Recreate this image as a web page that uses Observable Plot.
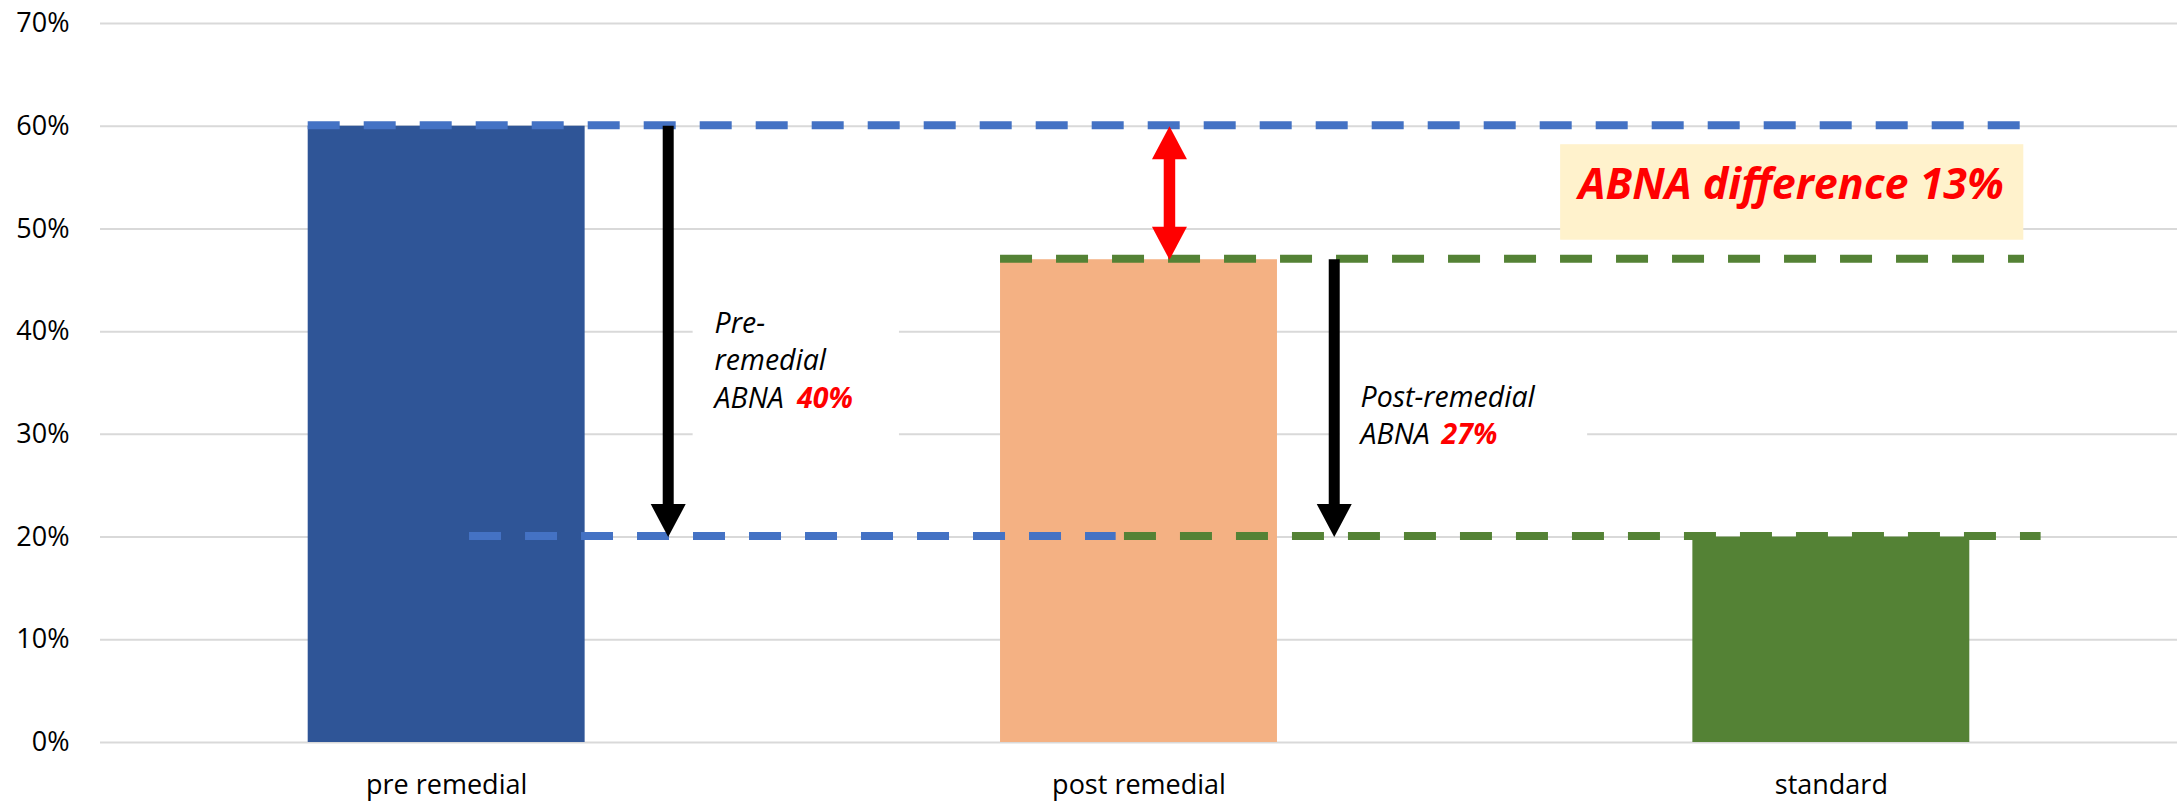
<!DOCTYPE html>
<html>
<head>
<meta charset="utf-8">
<script src="https://cdn.jsdelivr.net/npm/d3@7"></script>
<script src="https://cdn.jsdelivr.net/npm/@observablehq/plot@0.6"></script>
<style>
  body { margin: 0; background: #fff; }
</style>
</head>
<body>
<div id="chart"></div>
<script>
// ABNA share for each stage
const categories = ["pre remedial", "post remedial", "standard"];
const abnaShare = [60, 47, 20];
const barColors = ["#2F5597", "#F4B183", "#548235"];
const yTicks = [0, 10, 20, 30, 40, 50, 60, 70];

const [preLevel, postLevel, standardLevel] = abnaShare;
const preGap = preLevel - standardLevel;     // gap before remediation
const postGap = postLevel - standardLevel;   // gap after remediation
const difference = preLevel - postLevel;     // improvement

const bars = categories.map((category, i) => ({
  category, i, value: abnaShare[i], color: barColors[i]
}));

// Filled arrow heads, tip at the anchor point
const headDown = {draw(ctx) { ctx.moveTo(0, 0); ctx.lineTo(-17.5, -33); ctx.lineTo(17.5, -33); ctx.closePath(); }};
const headUp = {draw(ctx) { ctx.moveTo(0, 0); ctx.lineTo(-17.5, 33); ctx.lineTo(17.5, 33); ctx.closePath(); }};

const BLUE = "#4472C4", GREEN = "#548235", RED = "#FF0000";
const dashed = {strokeWidth: 8, strokeDasharray: "32,24", dy: -1};
const note = {textAnchor: "start", lineAnchor: "top", lineHeight: 1.316, fontSize: 28.5, fontStyle: "italic"};
const head = {r: 10, stroke: "none"};

const chart = Plot.plot({
  width: 2183,
  height: 801,
  marginLeft: 100,
  marginRight: 6,
  marginTop: 23,
  marginBottom: 59,
  x: {domain: [-0.5, 2.5]},
  y: {domain: [0, 70]},
  color: {type: "identity"},
  style: {fontFamily: "'Open Sans', sans-serif", fontSize: "27px", color: "#000", background: "#fff"},
  marks: [
    Plot.gridY(yTicks, {stroke: "#D9D9D9", strokeOpacity: 1, strokeWidth: 2}),
    Plot.axisY(yTicks, {tickSize: 0, tickPadding: 31, tickFormat: d => d + "%", label: null}),
    Plot.axisX([0, 1, 2], {tickSize: 0, tickPadding: 32, tickFormat: i => categories[i], label: null}),

    // bars
    Plot.rectY(bars, {x1: d => d.i - 0.2, x2: d => d.i + 0.2, y1: 0, y2: "value", fill: "color"}),

    // white panels behind the notes, and the highlighted difference box
    Plot.rect([0], {x1: 0.356, x2: 0.654, y1: 27, y2: 46, fill: "#fff"}),
    Plot.rect([0], {x1: 1.290, x2: 1.648, y1: 27.7, y2: 37, fill: "#fff"}),
    Plot.rect([0], {x1: 1.609, x2: 2.278, y1: 48.9, y2: 58.2, fill: "#FFF2CC"}),

    // reference levels
    Plot.ruleY([preLevel], {x1: -0.2, x2: 2.275, stroke: BLUE, ...dashed}),
    Plot.ruleY([standardLevel], {x1: 0.033, x2: 0.967, stroke: BLUE, ...dashed}),
    Plot.ruleY([postLevel], {x1: 0.8, x2: 2.279, stroke: GREEN, ...dashed}),
    Plot.ruleY([standardLevel], {x1: 0.979, x2: 2.303, stroke: GREEN, ...dashed}),

    // pre-remedial gap arrow
    Plot.ruleX([0.320], {y1: preLevel, y2: standardLevel, stroke: "#000", strokeWidth: 11, insetBottom: 30}),
    Plot.dot([standardLevel], {x: 0.320, y: d => d, symbol: headDown, fill: "#000", ...head}),

    // post-remedial gap arrow
    Plot.ruleX([1.282], {y1: postLevel, y2: standardLevel, stroke: "#000", strokeWidth: 11, insetBottom: 30}),
    Plot.dot([standardLevel], {x: 1.282, y: d => d, symbol: headDown, fill: "#000", ...head}),

    // difference double arrow
    Plot.ruleX([1.044], {y1: preLevel, y2: postLevel, stroke: RED, strokeWidth: 11.5, insetTop: 30, insetBottom: 30}),
    Plot.dot([preLevel], {x: 1.044, y: d => d, symbol: headUp, fill: RED, ...head}),
    Plot.dot([postLevel], {x: 1.044, y: d => d, symbol: headDown, fill: RED, ...head}),

    // notes
    Plot.text(["Pre-\nremedial\nABNA"], {x: 0.387, y: 42.5, text: d => d, fill: "#000", ...note}),
    Plot.text([`${preGap}%`], {x: 0.506, y: 35.2, text: d => d, fill: RED, fontWeight: "bold", ...note}),
    Plot.text(["Post-remedial\nABNA"], {x: 1.320, y: 35.3, text: d => d, fill: "#000", ...note}),
    Plot.text([`${postGap}%`], {x: 1.437, y: 31.7, text: d => d, fill: RED, fontWeight: "bold", ...note}),
    Plot.text([`ABNA difference ${difference}%`], {
      x: 1.942, y: 55.9, text: d => d, fill: RED, fontWeight: "bold", fontStyle: "italic",
      fontSize: 43, textAnchor: "middle", lineAnchor: "top"
    })
  ]
});

document.getElementById("chart").appendChild(chart);
</script>
</body>
</html>
